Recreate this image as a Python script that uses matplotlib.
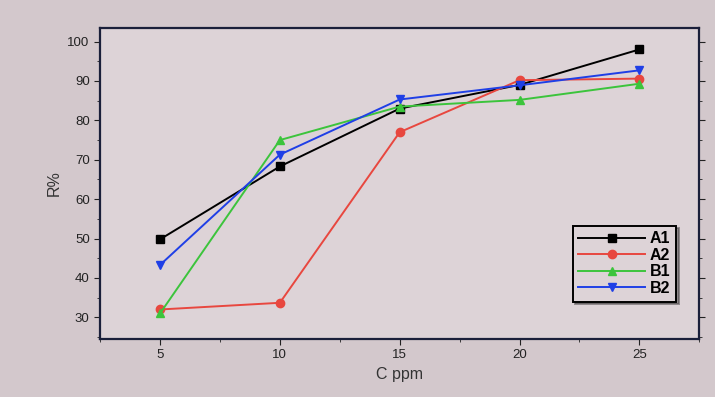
import matplotlib
matplotlib.use('Agg')
import matplotlib.pyplot as plt
from matplotlib.ticker import MultipleLocator

plt.rcParams['font.family'] = ['Liberation Sans', 'DejaVu Sans']

# concentration (ppm)
conc = [5, 10, 15, 20, 25]

# removal R%
a1 = [49.8, 68.3, 83.0, 89.0, 98.0]
a2 = [32.0, 33.7, 77.0, 90.2, 90.6]
b1 = [31.0, 75.0, 83.5, 85.2, 89.3]
b2 = [43.3, 71.3, 85.3, 88.9, 92.7]

series = [
    ('A1', a1, 'black', 's'),
    ('A2', a2, '#e8473f', 'o'),
    ('B1', b1, '#3cc43c', '^'),
    ('B2', b2, '#1f3fe6', 'v'),
]

fig = plt.figure(figsize=(7.15, 3.97), dpi=100, facecolor='#d3c8cc')
ax = fig.add_axes([0.14, 0.146, 0.838, 0.784])
ax.set_facecolor('#ddd3d7')

for name, vals, col, mk in series:
    ax.plot(conc, vals, color=col, marker=mk, markersize=6, linewidth=1.4, label=name)

ax.set_xlim(2.5, 27.5)
ax.set_ylim(24.5, 103.5)
ax.xaxis.set_major_locator(MultipleLocator(5))
ax.xaxis.set_minor_locator(MultipleLocator(2.5))
ax.yaxis.set_major_locator(MultipleLocator(10))
ax.yaxis.set_minor_locator(MultipleLocator(5))
ax.set_yticks([30, 40, 50, 60, 70, 80, 90, 100])
ax.tick_params(which='both', direction='out', right=True, labelsize=9.5, colors='#222222')
ax.tick_params(which='major', length=4)
ax.tick_params(which='minor', length=2.5)
for s in ax.spines.values():
    s.set_color('#1a1f3a')
    s.set_linewidth(1.6)

ax.set_xlabel('C ppm', fontsize=11.5, color='#333333')
ax.set_ylabel('R%', fontsize=11.5, color='#333333')

leg = ax.legend(loc='upper right', bbox_to_anchor=(0.975, 0.39), frameon=True,
                fancybox=False, shadow=True, edgecolor='black', facecolor='#ddd3d7',
                prop={'size': 11.5, 'weight': 'bold'}, handlelength=4.2,
                borderpad=0.35, labelspacing=0.1, handletextpad=0.3)
leg.get_frame().set_linewidth(1.4)

fig.savefig('out.png', dpi=100, facecolor=fig.get_facecolor())
